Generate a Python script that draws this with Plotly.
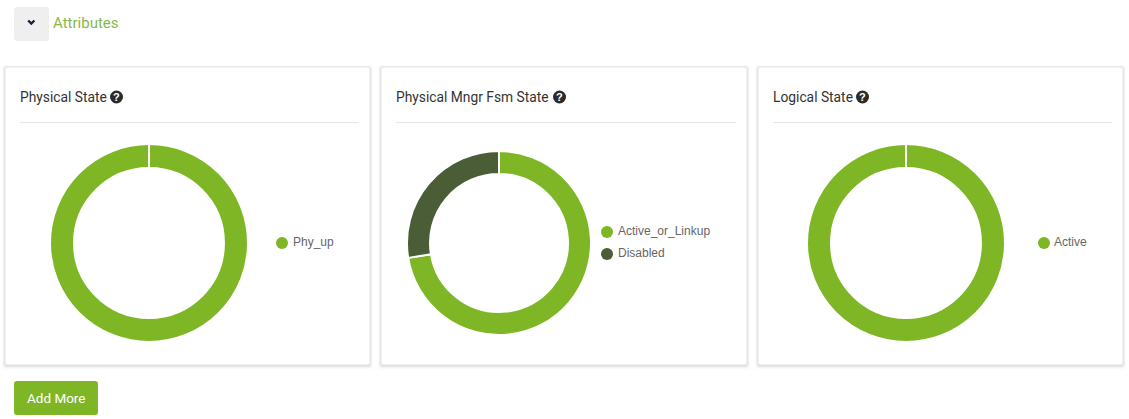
import plotly.graph_objects as go

W, H = 1129, 419
GREEN = "#7eb626"
DARK = "#4a5d36"
TITLE_FONT = "Roboto"

section_title = "Attributes"
button_label = "Add More"
card_titles = ["Physical State", "Physical Mngr Fsm State", "Logical State"]
labels_physical = ["Phy_up"]
values_physical = [1]
labels_fsm = ["Active_or_Linkup", "Disabled"]
values_fsm = [21, 8]
labels_logical = ["Active"]
values_logical = [1]

cards = [
    dict(x0=5, x1=370, cx=149, r=99, hole=0.757, legend_x=282, text_x=293, legend_y=[243], qx=116.5),
    dict(x0=381, x1=747, cx=499, r=92, hole=0.75, legend_x=607, text_x=618, legend_y=[232, 254], qx=559.5),
    dict(x0=758, x1=1123, cx=906, r=99, hole=0.757, legend_x=1044, text_x=1054, legend_y=[243], qx=862.5),
]
series = [
    (labels_physical, values_physical),
    (labels_fsm, values_fsm),
    (labels_logical, values_logical),
]
CY = 243
CARD_TOP, CARD_BOTTOM = 67, 365


def rounded(x0, y0, x1, y1, r):
    return (f"M{x0+r},{y0} L{x1-r},{y0} Q{x1},{y0} {x1},{y0+r} L{x1},{y1-r} Q{x1},{y1} {x1-r},{y1} "
            f"L{x0+r},{y1} Q{x0},{y1} {x0},{y1-r} L{x0},{y0+r} Q{x0},{y0} {x0+r},{y0} Z")


fig = go.Figure()
shapes, annotations = [], []


def text(x, y, s, size, color, family=TITLE_FONT, anchor="left"):
    annotations.append(dict(x=x, y=y, xref="x", yref="y", text=s, showarrow=False, xanchor=anchor,
                            yanchor="middle", xshift=-2 if anchor == "left" else 0,
                            font=dict(size=size, color=color, family=family)))


# header
shapes.append(dict(type="path", path=rounded(14, 7, 49, 41, 3), fillcolor="#efefef", line_width=0, layer="below"))
shapes.append(dict(type="path", path="M28.2,20.5 L31.3,23.6 L34.4,20.5", line=dict(color="#16233f", width=2.4), layer="below"))
text(53, 23, section_title, 15, "#86b94a")

# cards
for card, title, (labs, vals) in zip(cards, card_titles, series):
    x0, x1 = card["x0"], card["x1"]
    for grow, alpha in [(4, 0.02), (3, 0.03), (2, 0.04), (1, 0.05)]:
        shapes.append(dict(type="path", path=rounded(x0 - grow + 1, CARD_TOP - grow + 2, x1 + grow - 1, CARD_BOTTOM + grow, 3),
                           fillcolor=f"rgba(0,0,0,{alpha})", line_width=0, layer="below"))
    shapes.append(dict(type="path", path=rounded(x0, CARD_TOP, x1, CARD_BOTTOM, 2), fillcolor="white",
                       line=dict(color="#e2e2e2", width=1), layer="below"))
    shapes.append(dict(type="line", x0=x0 + 15, x1=x1 - 11, y0=122.5, y1=122.5, line=dict(color="#e6e6e6", width=1), layer="below"))
    text(x0 + 15, 97, title, 13.8, "#333333")
    qx = card["qx"]
    shapes.append(dict(type="circle", x0=qx - 6.5, x1=qx + 6.5, y0=90.5, y1=103.5, fillcolor="#2b2b2b", line_width=0, layer="below"))
    text(qx, 97, "<b>?</b>", 11, "white", family="Liberation Sans", anchor="center")

    r, cx = card["r"], card["cx"]
    fig.add_trace(go.Pie(
        labels=labs, values=vals, hole=card["hole"], sort=False, direction="clockwise", rotation=0,
        marker=dict(colors=[GREEN, DARK][:len(labs)], line=dict(color="white", width=2)),
        textinfo="none", hoverinfo="label+percent", showlegend=False,
        domain=dict(x=[(cx - r) / W, (cx + r) / W], y=[1 - (CY + r) / H, 1 - (CY - r) / H]),
    ))
    if len(labs) == 1:  # seam where the single slice closes on itself
        shapes.append(dict(type="line", x0=cx, x1=cx, y0=CY - r, y1=CY - r * card["hole"] + 1,
                           line=dict(color="white", width=2), layer="above"))
    fig.add_trace(go.Scatter(
        x=[card["legend_x"]] * len(labs), y=card["legend_y"], mode="markers", hoverinfo="skip", showlegend=False,
        marker=dict(size=12, color=[GREEN, DARK][:len(labs)], line_width=0),
    ))
    for lab, ly in zip(labs, card["legend_y"]):
        text(card["text_x"], ly - 1, lab, 12, "#666666", family="Liberation Sans")

# button
shapes.append(dict(type="path", path=rounded(14, 381, 98, 415, 3), fillcolor=GREEN, line_width=0, layer="below"))
text(56, 397.5, button_label, 13.5, "white", anchor="center")

axis = dict(visible=False, fixedrange=True)
fig.update_layout(
    width=W, height=H, margin=dict(l=0, r=0, t=0, b=0), paper_bgcolor="white", plot_bgcolor="white",
    xaxis=dict(range=[0, W], **axis), yaxis=dict(range=[H, 0], **axis),
    shapes=shapes, annotations=annotations, showlegend=False,
)
fig.write_html("out.html", config=dict(displayModeBar=False),
               post_script="document.body.style.margin='0';document.documentElement.style.overflow='hidden';")
